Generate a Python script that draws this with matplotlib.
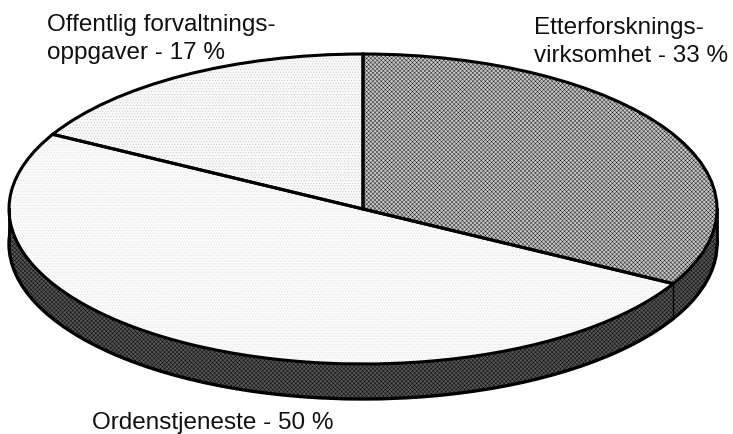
import numpy as np
import matplotlib.pyplot as plt
from matplotlib.patches import Rectangle

shares = [33, 50, 17]
top_colors = ["#c6c6c6", "#fafafa", "#f8f8f8"]
top_hatches = ["xxxxxxxx", "......", "......"]
hatch_colors = ["#111111", "#dcdcdc", "#c4c4c4"]
labels = ["Etterforsknings-\nvirksomhet - 33 %", "Ordenstjeneste - 50 %", "Offentlig forvaltnings-\noppgaver - 17 %"]

plt.rcParams["font.family"] = ["Liberation Sans", "DejaVu Sans"]
plt.rcParams["hatch.linewidth"] = 0.3

fig = plt.figure(figsize=(7.33, 4.35), dpi=100)
ax = fig.add_axes([0, 0, 1, 1])

ax_w, ax_h = 733, 435
rx, ry = 354, 155
cx, cy = 363, 210
depth = 35
dark = "#565656"

# the pie stays a circle in data units, the y limits squash it to an ellipse
sq = ry / rx

# side of the disc
side, _ = ax.pie([sum(shares)], radius=rx, center=(cx, (cy + depth) / sq), startangle=-90,
                 colors=[dark], wedgeprops=dict(edgecolor="black", linewidth=2.4), frame=True)
side[0].set_hatch("xxxxxxxx")
ax.add_patch(Rectangle((cx - rx, cy / sq), 2 * rx, depth / sq, facecolor=dark, edgecolor="black",
                       linewidth=0, hatch="xxxxxxxx"))
ax.plot([cx - rx, cx - rx], [cy / sq, (cy + depth) / sq], color="black", lw=2.0)
ax.plot([cx + rx, cx + rx], [cy / sq, (cy + depth) / sq], color="black", lw=2.0)

# seam on the side below the 33 % boundary
seam = np.deg2rad(-90 + 360 * shares[0] / sum(shares))
seam_x = cx + rx * np.cos(seam)
seam_y = cy / sq + rx * np.sin(seam)
ax.plot([seam_x, seam_x], [seam_y, seam_y + depth / sq], color="black", lw=1.0)

# top of the disc, fill with stipple first and outlines over it
wedges, _ = ax.pie(shares, radius=rx, center=(cx, cy / sq), startangle=-90, counterclock=True,
                   colors=top_colors, wedgeprops=dict(linewidth=0), frame=True)
for w, h, hc in zip(wedges, top_hatches, hatch_colors):
    w.set_edgecolor(hc)
    w.set_hatch(h)
ax.pie(shares, radius=rx, center=(cx, cy / sq), startangle=-90, counterclock=True,
       wedgeprops=dict(edgecolor="black", linewidth=2.2, fill=False), frame=True)

ax.set_aspect("auto")
ax.set_xlim(0, ax_w)
ax.set_ylim(ax_h / sq, 0)
ax.axis("off")

fs = 17.5
ax.text(534, 42 / sq, labels[0], fontsize=fs, va="center", ha="left", color="#111111", linespacing=1.32)
ax.text(92, 423 / sq, labels[1], fontsize=fs, va="center", ha="left", color="#111111")
ax.text(47, 39 / sq, labels[2], fontsize=fs, va="center", ha="left", color="#111111", linespacing=1.32)

fig.savefig("out.png", dpi=100)
plt.close(fig)
